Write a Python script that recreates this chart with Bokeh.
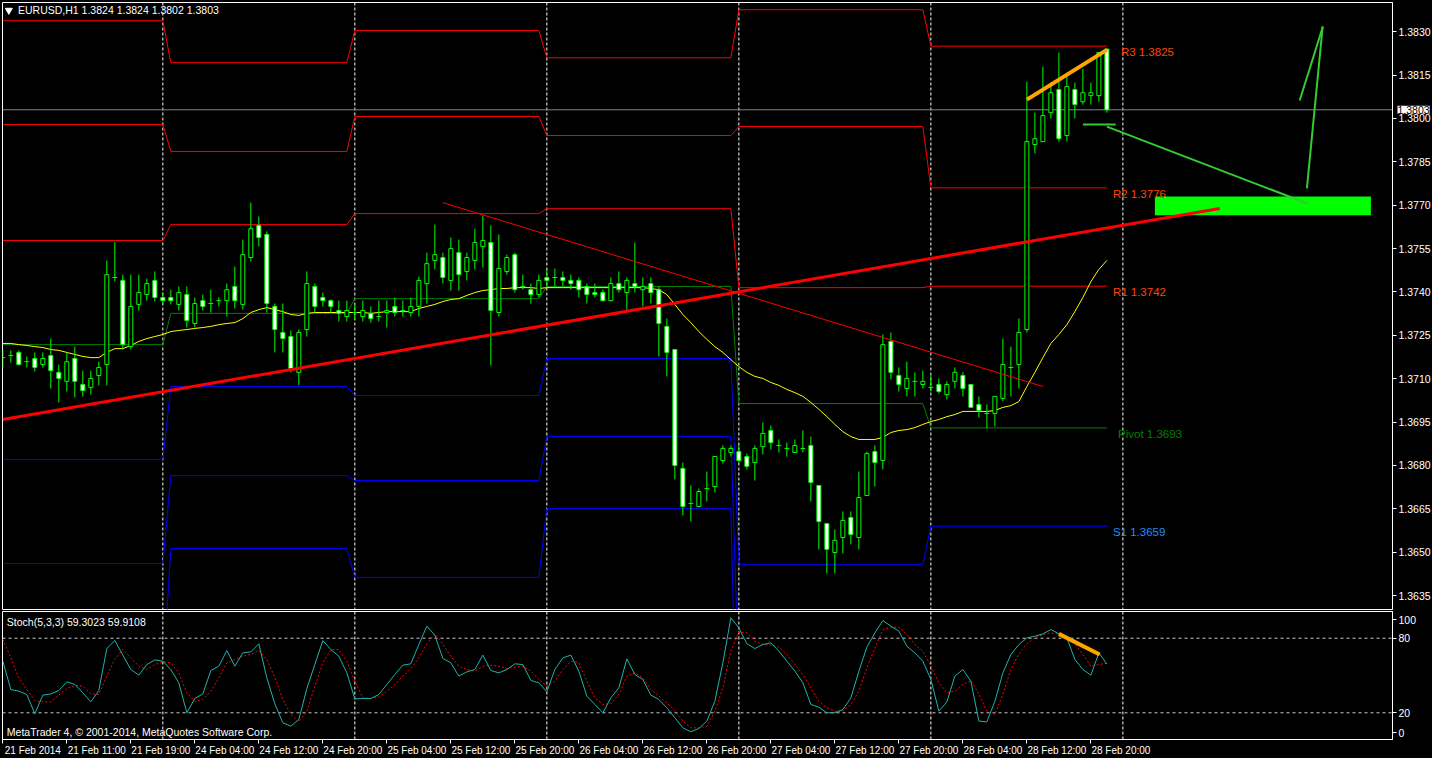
from bokeh.plotting import figure
from bokeh.models import ColumnDataSource, Range1d, FixedTicker, Span, Label, PrintfTickFormatter
from bokeh.layouts import column
from bokeh.embed import file_html
from bokeh.resources import INLINE

# ---------------- data (EURUSD H1, 21 Feb 03:00 .. 28 Feb 22:00) ----------------
opens = [1.37173, 1.37180, 1.37191, 1.37159, 1.37170, 1.37149, 1.37180, 1.37122, 1.37091, 1.37170,
         1.37080, 1.37070, 1.37111, 1.37149, 1.37450, 1.37440, 1.37211, 1.37357, 1.37391, 1.37440,
         1.37381, 1.37381, 1.37357, 1.37391, 1.37291, 1.37370, 1.37360, 1.37370, 1.37370, 1.37419,
         1.37357, 1.37519, 1.37630, 1.37599, 1.37350, 1.37260, 1.37246, 1.37122, 1.37270, 1.37419,
         1.37381, 1.37370, 1.37336, 1.37315, 1.37329, 1.37315, 1.37326, 1.37315, 1.37329, 1.37350,
         1.37336, 1.37329, 1.37350, 1.37429, 1.37509, 1.37519, 1.37440, 1.37536, 1.37471, 1.37509,
         1.37557, 1.37571, 1.37329, 1.37471, 1.37529, 1.37419, 1.37408, 1.37391, 1.37450, 1.37450,
         1.37450, 1.37440, 1.37440, 1.37419, 1.37398, 1.37398, 1.37370, 1.37429, 1.37398, 1.37429,
         1.37408, 1.37429, 1.37408, 1.37281, 1.37201, 1.36790, 1.36669, 1.36658, 1.36720, 1.36727,
         1.36817, 1.36845, 1.36848, 1.36831, 1.36810, 1.36865, 1.36921, 1.36869, 1.36859, 1.36845,
         1.36859, 1.36869, 1.36731, 1.36599, 1.36499, 1.36551, 1.36620, 1.36551, 1.36696, 1.36848,
         1.36817, 1.37229, 1.37111, 1.37066, 1.37091, 1.37080, 1.37070, 1.37080, 1.37045, 1.37091,
         1.37111, 1.37080, 1.37011, 1.36980, 1.36980, 1.37032, 1.37139, 1.37149, 1.37270, 1.37910,
         1.37920, 1.38020, 1.38100, 1.37941, 1.38100, 1.38058, 1.38079, 1.38079, 1.38240]
highs = [1.37201, 1.37198, 1.37198, 1.37177, 1.37191, 1.37191, 1.37239, 1.37149, 1.37191, 1.37211,
         1.37128, 1.37128, 1.37159, 1.37509, 1.37574, 1.37460, 1.37460, 1.37460, 1.37446, 1.37471,
         1.37398, 1.37408, 1.37419, 1.37419, 1.37381, 1.37391, 1.37408, 1.37381, 1.37429, 1.37488,
         1.37581, 1.37709, 1.37661, 1.37609, 1.37360, 1.37360, 1.37267, 1.37270, 1.37471, 1.37429,
         1.37398, 1.37374, 1.37370, 1.37370, 1.37357, 1.37370, 1.37350, 1.37370, 1.37370, 1.37381,
         1.37370, 1.37381, 1.37453, 1.37536, 1.37633, 1.37536, 1.37588, 1.37581, 1.37536, 1.37619,
         1.37664, 1.37630, 1.37599, 1.37529, 1.37536, 1.37460, 1.37429, 1.37460, 1.37481, 1.37481,
         1.37471, 1.37460, 1.37450, 1.37429, 1.37429, 1.37408, 1.37450, 1.37471, 1.37450, 1.37571,
         1.37450, 1.37450, 1.37419, 1.37308, 1.37201, 1.36810, 1.36731, 1.36720, 1.36779, 1.36831,
         1.36869, 1.36869, 1.36869, 1.36841, 1.36869, 1.36949, 1.36938, 1.36890, 1.36879, 1.36890,
         1.36921, 1.36900, 1.36731, 1.36599, 1.36579, 1.36641, 1.36641, 1.36779, 1.36848, 1.36869,
         1.37253, 1.37260, 1.37139, 1.37159, 1.37122, 1.37128, 1.37111, 1.37101, 1.37091, 1.37139,
         1.37122, 1.37080, 1.37039, 1.37011, 1.37039, 1.37239, 1.37211, 1.37308, 1.38127, 1.38020,
         1.38179, 1.38124, 1.38228, 1.38158, 1.38124, 1.38172, 1.38124, 1.38228, 1.38240]
lows = [1.37139, 1.37156, 1.37146, 1.37139, 1.37125, 1.37139, 1.37066, 1.37018, 1.37056, 1.37035,
        1.37039, 1.37045, 1.37077, 1.37077, 1.37436, 1.37201, 1.37201, 1.37336, 1.37370, 1.37367,
        1.37357, 1.37357, 1.37336, 1.37277, 1.37277, 1.37336, 1.37329, 1.37350, 1.37315, 1.37343,
        1.37339, 1.37505, 1.37557, 1.37329, 1.37191, 1.37191, 1.37122, 1.37077, 1.37246, 1.37329,
        1.37350, 1.37329, 1.37298, 1.37298, 1.37305, 1.37298, 1.37294, 1.37298, 1.37277, 1.37315,
        1.37315, 1.37315, 1.37315, 1.37360, 1.37478, 1.37429, 1.37405, 1.37405, 1.37440, 1.37478,
        1.37484, 1.37146, 1.37315, 1.37460, 1.37398, 1.37408, 1.37360, 1.37381, 1.37419, 1.37419,
        1.37419, 1.37408, 1.37381, 1.37360, 1.37381, 1.37367, 1.37367, 1.37398, 1.37336, 1.37398,
        1.37350, 1.37360, 1.37177, 1.37108, 1.36752, 1.36627, 1.36606, 1.36655, 1.36676, 1.36707,
        1.36807, 1.36831, 1.36810, 1.36786, 1.36748, 1.36838, 1.36855, 1.36845, 1.36831, 1.36845,
        1.36845, 1.36676, 1.36510, 1.36427, 1.36427, 1.36496, 1.36527, 1.36510, 1.36696, 1.36727,
        1.36786, 1.37098, 1.37056, 1.37039, 1.37039, 1.37066, 1.37056, 1.37049, 1.37028, 1.37066,
        1.37039, 1.37001, 1.36966, 1.36928, 1.36935, 1.37022, 1.37039, 1.37066, 1.37260, 1.37879,
        1.37920, 1.38000, 1.37920, 1.37920, 1.38000, 1.38048, 1.38048, 1.38058, 1.38020]
closes = [1.37173, 1.37180, 1.37149, 1.37159, 1.37139, 1.37170, 1.37128, 1.37101, 1.37159, 1.37091,
          1.37059, 1.37101, 1.37139, 1.37460, 1.37450, 1.37218, 1.37350, 1.37398, 1.37429, 1.37381,
          1.37370, 1.37370, 1.37398, 1.37301, 1.37360, 1.37350, 1.37360, 1.37370, 1.37408, 1.37370,
          1.37529, 1.37619, 1.37588, 1.37360, 1.37270, 1.37239, 1.37135, 1.37260, 1.37429, 1.37350,
          1.37370, 1.37350, 1.37326, 1.37336, 1.37329, 1.37336, 1.37308, 1.37315, 1.37336, 1.37329,
          1.37336, 1.37350, 1.37440, 1.37498, 1.37529, 1.37450, 1.37550, 1.37460, 1.37519, 1.37571,
          1.37578, 1.37336, 1.37481, 1.37519, 1.37408, 1.37419, 1.37391, 1.37440, 1.37440, 1.37450,
          1.37440, 1.37429, 1.37408, 1.37391, 1.37391, 1.37370, 1.37429, 1.37408, 1.37440, 1.37419,
          1.37419, 1.37398, 1.37291, 1.37191, 1.36800, 1.36658, 1.36669, 1.36710, 1.36720, 1.36831,
          1.36859, 1.36859, 1.36817, 1.36797, 1.36859, 1.36911, 1.36879, 1.36869, 1.36859, 1.36869,
          1.36859, 1.36741, 1.36606, 1.36510, 1.36541, 1.36610, 1.36561, 1.36689, 1.36841, 1.36810,
          1.37218, 1.37122, 1.37080, 1.37101, 1.37091, 1.37091, 1.37070, 1.37056, 1.37080, 1.37122,
          1.37066, 1.37001, 1.36990, 1.36980, 1.37039, 1.37149, 1.37139, 1.37260, 1.37920, 1.37930,
          1.38010, 1.38089, 1.37930, 1.38110, 1.38048, 1.38089, 1.38089, 1.38228, 1.38030]

moving_avg = [1.37222, 1.37222, 1.37218, 1.37215, 1.37211, 1.37208, 1.37201, 1.37198, 1.37191, 1.37184,
              1.37177, 1.37173, 1.37173, 1.37191, 1.37204, 1.37204, 1.37215, 1.37229, 1.37239, 1.37246,
              1.37253, 1.37263, 1.37267, 1.37270, 1.37274, 1.37277, 1.37281, 1.37287, 1.37291, 1.37294,
              1.37308, 1.37329, 1.37339, 1.37346, 1.37339, 1.37332, 1.37322, 1.37319, 1.37326, 1.37329,
              1.37329, 1.37329, 1.37329, 1.37329, 1.37329, 1.37329, 1.37326, 1.37329, 1.37332, 1.37332,
              1.37332, 1.37332, 1.37343, 1.37350, 1.37357, 1.37367, 1.37374, 1.37377, 1.37388, 1.37398,
              1.37405, 1.37408, 1.37412, 1.37412, 1.37415, 1.37415, 1.37415, 1.37412, 1.37415, 1.37415,
              1.37415, 1.37415, 1.37415, 1.37415, 1.37415, 1.37415, 1.37415, 1.37415, 1.37415, 1.37415,
              1.37415, 1.37412, 1.37408, 1.37391, 1.37357, 1.37322, 1.37294, 1.37263, 1.37236, 1.37211,
              1.37191, 1.37166, 1.37142, 1.37122, 1.37108, 1.37101, 1.37087, 1.37077, 1.37063, 1.37052,
              1.37039, 1.37018, 1.36994, 1.36969, 1.36942, 1.36917, 1.36900, 1.36890, 1.36890, 1.36890,
              1.36897, 1.36914, 1.36921, 1.36924, 1.36931, 1.36942, 1.36952, 1.36959, 1.36969, 1.36976,
              1.36987, 1.36987, 1.36987, 1.36987, 1.36990, 1.37001, 1.37007, 1.37021, 1.37073, 1.37122,
              1.37173, 1.37222, 1.37253, 1.37287, 1.37332, 1.37381, 1.37436, 1.37478, 1.37509]

stoch_main = [61.5, 38.7, 37.4, 34.7, 19.2, 34.2, 35.2, 37.9, 44.9, 42.8,
              36.1, 28.8, 37.9, 71.7, 78.1, 66.4, 54.8, 50.3, 58.8, 62.6,
              61.5, 54.8, 44.1, 20.0, 31.5, 35.2, 54.0, 57.5, 70.1, 57.5,
              68.2, 69.0, 75.5, 48.1, 27.2, 11.9, 9.2, 14.6, 39.5, 58.8,
              78.1, 70.9, 65.5, 52.1, 31.2, 31.5, 31.5, 34.7, 42.8, 50.8,
              58.3, 59.4, 74.9, 89.7, 82.4, 63.7, 60.2, 49.5, 52.9, 54.8,
              66.4, 54.0, 52.1, 54.8, 59.4, 58.8, 46.0, 44.1, 36.9, 54.8,
              64.2, 66.4, 53.5, 33.4, 26.7, 20.0, 32.0, 40.1, 63.4, 50.8,
              46.8, 34.2, 30.7, 24.0, 16.0, 7.9, 4.7, 7.4, 13.3, 29.3,
              60.2, 96.4, 88.3, 75.5, 71.7, 74.9, 76.3, 69.6, 61.5, 53.5,
              44.1, 26.7, 24.5, 20.0, 20.0, 22.6, 32.0, 53.5, 72.8, 84.3,
              94.2, 89.7, 85.7, 73.6, 68.2, 61.5, 46.8, 21.3, 28.8, 49.5,
              54.8, 45.4, 13.3, 12.7, 29.3, 52.1, 66.9, 74.9, 80.3, 81.6,
              83.5, 87.0, 83.5, 80.3, 62.9, 54.8, 50.3, 68.2, 59.3]
stoch_signal = [79.0, 64.2, 48.1, 38.7, 29.9, 28.8, 28.8, 34.2, 39.5, 42.0,
                41.4, 35.2, 34.7, 49.5, 62.9, 70.9, 64.2, 57.5, 54.8, 58.8,
                61.0, 60.2, 52.1, 36.0, 29.3, 30.7, 37.4, 48.1, 60.2, 62.9,
                65.5, 66.9, 70.1, 62.9, 48.7, 30.7, 18.6, 12.7, 21.3, 41.4,
                60.2, 70.9, 70.9, 61.5, 45.4, 32.0, 31.5, 32.6, 37.4, 42.8,
                49.5, 55.6, 64.2, 75.5, 83.5, 74.9, 65.5, 57.5, 54.8, 53.5,
                57.5, 58.3, 57.5, 55.6, 56.7, 57.5, 53.5, 46.8, 41.4, 45.4,
                54.8, 61.5, 60.2, 45.4, 32.0, 26.7, 27.2, 34.7, 49.5, 52.1,
                48.1, 38.7, 33.4, 28.0, 21.3, 13.3, 7.9, 7.9, 9.2, 21.3,
                40.1, 69.6, 85.1, 84.3, 77.6, 74.9, 74.4, 72.8, 66.9, 58.8,
                50.8, 40.1, 29.3, 24.0, 21.3, 21.3, 26.7, 37.4, 56.2, 72.2,
                87.0, 88.9, 88.9, 83.0, 74.9, 69.6, 57.5, 44.1, 36.0, 37.4,
                42.8, 46.0, 35.2, 21.3, 18.6, 35.2, 54.8, 67.4, 75.5, 80.3,
                83.0, 84.3, 83.5, 81.6, 75.5, 66.9, 57.5, 58.8, 59.9]

# daily pivot levels (days: 21, 24, 25, 26, 27, 28 Feb) and first bar of each
pivot_day_start = [0, 21, 44, 68, 92, 116]
pivot_R3 = [1.38338, 1.38193, 1.38304, 1.38210, 1.38376, 1.3825]
pivot_R2 = [1.37979, 1.37886, 1.38007, 1.37941, 1.37972, 1.3776]
pivot_R1 = [1.37578, 1.37633, 1.37671, 1.37688, 1.37415, 1.3742]
pivot_PP = [1.37218, 1.37326, 1.37377, 1.37419, 1.37014, 1.3693]
pivot_S1 = [1.36821, 1.37073, 1.37042, 1.37170, 1.36458, 1.3659]
pivot_S2 = [1.36461, 1.36765, 1.36748, 1.36900, 1.36053, 1.3610]
pivot_S3 = [1.36060, 1.36513, 1.36413, 1.36651, 1.35497, 1.3576]

# drawn objects (bar index, price)
trend_up_bars = [0, 152.1]
trend_up_prices = [1.36959, 1.37689]
trend_down_bars = [55, 130]
trend_down_prices = [1.37709, 1.37073]
wedge_bars = [128, 138.04]
wedge_prices = [1.38065, 1.38238]
support_bars = [135, 139.1]
support_prices = [1.37979, 1.37979]
path_down_bars = [138, 163.04]
path_down_prices = [1.37972, 1.37706]
path_up_bars = [163.0, 164.97]
path_up_prices = [1.37758, 1.38318]
arrow_bars = [162.1, 165.0]
arrow_prices = [1.38062, 1.38318]
zone_bars = [144, 171]
zone_prices = [1.37665, 1.37730]
stoch_div_bars = [132.0, 137.1]
stoch_div_values = [83.5, 66.9]

price_ticks = [1.3635, 1.3650, 1.3665, 1.3680, 1.3695, 1.3710, 1.3725,
               1.3740, 1.3755, 1.3770, 1.3785, 1.3800, 1.3815, 1.3830]
separator_bars = [20, 44, 68, 92, 116, 140]
date_label_bars = [0, 8, 16, 24, 32, 40, 48, 56, 64, 72, 80, 88, 96, 104, 112, 120, 128, 136]
date_labels = ["21 Feb 2014", "21 Feb 11:00", "21 Feb 19:00", "24 Feb 04:00", "24 Feb 12:00",
               "24 Feb 20:00", "25 Feb 04:00", "25 Feb 12:00", "25 Feb 20:00", "26 Feb 04:00",
               "26 Feb 12:00", "26 Feb 20:00", "27 Feb 04:00", "27 Feb 12:00", "27 Feb 20:00",
               "28 Feb 04:00", "28 Feb 12:00", "28 Feb 20:00"]

# ---------------- styling ----------------
FONT = "Liberation Sans"
BG = "black"
CANDLE = "#00FF00"
FRAME_W = 1390
n = len(closes)
bars = list(range(n))

p = figure(frame_width=FRAME_W, frame_height=607,
           x_range=Range1d(-0.04, 173.7), y_range=Range1d(1.36302, 1.38401),
           y_axis_location="right", x_axis_location=None,
           output_backend="svg", toolbar_location=None,
           background_fill_color=BG, border_fill_color=BG,
           min_border_left=2, min_border_top=2, min_border_bottom=1, min_border_right=0)
p.grid.visible = False
p.outline_line_color = "white"

ax = p.yaxis[0]
ax.ticker = FixedTicker(ticks=price_ticks, minor_ticks=[])
ax.formatter = PrintfTickFormatter(format="%.4f")
ax.axis_line_color = "white"
ax.major_tick_line_color = "white"
ax.major_tick_out = 4
ax.major_tick_in = 0
ax.minor_tick_line_color = None
ax.major_label_text_color = "white"
ax.major_label_text_font = FONT
ax.major_label_text_font_size = "10.5px"
ax.major_label_standoff = 2

for b in separator_bars:
    p.add_layout(Span(location=b, dimension="height", line_color="white",
                      line_dash="3 2", line_width=1, level="underlay"))
p.add_layout(Span(location=closes[-1], dimension="width", line_color="#778899",
                  line_width=1, level="underlay"))

# pivot step lines
day_of_bar = [max(k for k, s in enumerate(pivot_day_start) if s <= i) for i in bars]
for levels, col in [(pivot_R3, "#FF0000"), (pivot_R2, "#FF0000"), (pivot_R1, "#FF0000"),
                    (pivot_PP, "#008000"),
                    (pivot_S1, "#0000FF"), (pivot_S2, "#0000FF"), (pivot_S3, "#0000FF")]:
    p.line(bars, [levels[d] for d in day_of_bar], line_color=col, line_width=1)

# moving average
p.line(bars, moving_avg, line_color="#FFFF00", line_width=1)

# candles
p.segment(x0=bars, y0=lows, x1=bars, y1=highs, line_color=CANDLE, line_width=1)
body = [i for i in bars if abs(opens[i] - closes[i]) > 1e-6]
doji = [i for i in bars if abs(opens[i] - closes[i]) <= 1e-6]
src = ColumnDataSource(dict(
    x=body,
    top=[max(opens[i], closes[i]) for i in body],
    bottom=[min(opens[i], closes[i]) for i in body],
    fill=["white" if closes[i] < opens[i] else "black" for i in body]))
p.vbar(x="x", width=0.5, top="top", bottom="bottom", fill_color="fill",
       line_color=CANDLE, line_width=1, source=src)
p.segment(x0=[i - 0.3 for i in doji], y0=[closes[i] for i in doji],
          x1=[i + 0.3 for i in doji], y1=[closes[i] for i in doji],
          line_color=CANDLE, line_width=1)

# objects
p.quad(left=[zone_bars[0]], right=[zone_bars[1]], bottom=[zone_prices[0]], top=[zone_prices[1]],
       fill_color="#00FF00", line_color=None)
p.line(trend_down_bars, trend_down_prices, line_color="#FF0000", line_width=1)
p.line(trend_up_bars, trend_up_prices, line_color="#FF0000", line_width=3)
GREEN = "#33CC33"
p.line(support_bars, support_prices, line_color=GREEN, line_width=2)
p.line(path_down_bars, path_down_prices, line_color=GREEN, line_width=2)
p.line(path_up_bars, path_up_prices, line_color=GREEN, line_width=2)
p.line(arrow_bars, arrow_prices, line_color=GREEN, line_width=2)
p.line(wedge_bars, wedge_prices, line_color="#FFA500", line_width=4)

# pivot labels for the last day
for txt, lvl, xb, col in [("R3 %.4f" % pivot_R3[-1], pivot_R3[-1], 139.75, "#FF4500"),
                          ("R2 %.4f" % pivot_R2[-1], pivot_R2[-1], 138.75, "#FF4500"),
                          ("R1 %.4f" % pivot_R1[-1], pivot_R1[-1], 138.75, "#FF4500"),
                          ("Pivot %.4f" % pivot_PP[-1], pivot_PP[-1], 139.4, "#008000"),
                          ("S1 %.4f" % pivot_S1[-1], pivot_S1[-1], 138.75, "#1E90FF")]:
    p.add_layout(Label(x=xb, y=lvl, text=txt, text_color=col, text_font=FONT,
                       text_font_size="11.5px", text_baseline="top", text_align="left"))

p.scatter(x=[0.75], y=[1.38374], marker="inverted_triangle", size=7,
          fill_color="white", line_color="white")
p.add_layout(Label(x=1.9, y=1.38374,
                   text="EURUSD,H1  %.4f %.4f %.4f %.4f" % (opens[-1], highs[-1], lows[-1], closes[-1]),
                   text_color="white", text_font=FONT, text_font_size="10.5px",
                   text_baseline="middle", text_align="left"))
# current price tag on the price scale (right side panel, so it is not clipped to the frame)
p.add_layout(Label(x=-36, x_units="screen", y=closes[-1], text="%.4f" % closes[-1],
                   text_color="black", background_fill_color="white", text_font=FONT,
                   text_font_size="10.5px", text_baseline="middle", text_align="left"), "right")

# ---------------- stochastic pane ----------------
q = figure(frame_width=FRAME_W, frame_height=128,
           x_range=p.x_range, y_range=Range1d(-1.5, 101.5),
           y_axis_location="right",
           output_backend="svg", toolbar_location=None,
           background_fill_color=BG, border_fill_color=BG,
           min_border_left=2, min_border_top=1, min_border_bottom=0, min_border_right=0)
q.grid.visible = False
q.outline_line_color = "white"

xa = q.xaxis[0]
xa.ticker = FixedTicker(ticks=[b + 3.75 for b in date_label_bars], minor_ticks=date_label_bars)
xa.major_label_overrides = {b + 3.75: lab for b, lab in zip(date_label_bars, date_labels)}
xa.major_tick_line_color = None
xa.major_tick_out = 4
xa.major_tick_in = 0
xa.minor_tick_line_color = "white"
xa.minor_tick_out = 4
xa.minor_tick_in = 0
xa.axis_line_color = "white"
xa.major_label_text_color = "white"
xa.major_label_text_font = FONT
xa.major_label_text_font_size = "10px"
xa.major_label_standoff = 1

ya = q.yaxis[0]
ya.ticker = FixedTicker(ticks=[4, 20, 80, 95], minor_ticks=[])
ya.major_label_overrides = {4: "0", 20: "20", 80: "80", 95: "100"}
ya.axis_line_color = "white"
ya.major_tick_line_color = "white"
ya.major_tick_out = 4
ya.major_tick_in = 0
ya.minor_tick_line_color = None
ya.major_label_text_color = "white"
ya.major_label_text_font = FONT
ya.major_label_text_font_size = "10.5px"
ya.major_label_standoff = 2

for b in separator_bars:
    q.add_layout(Span(location=b, dimension="height", line_color="white",
                      line_dash="3 2", line_width=1, level="underlay"))
for lvl in [20, 80]:
    q.add_layout(Span(location=lvl, dimension="width", line_color="#C8C8C8",
                      line_dash="3 3", line_width=1, level="underlay"))

q.line(bars, stoch_signal, line_color="#FF0000", line_width=1, line_dash="2 2")
q.line(bars, stoch_main, line_color="#20B2AA", line_width=1)
q.line(stoch_div_bars, stoch_div_values, line_color="#FFA500", line_width=4)

q.add_layout(Label(x=0.5, y=93.4, text="Stoch(5,3,3) %.4f %.4f" % (59.3023, 59.9108),
                   text_color="white", text_font=FONT, text_font_size="10.5px",
                   text_baseline="middle", text_align="left"))
q.add_layout(Label(x=0.5, y=4.2, text="MetaTrader 4, \u00a9 2001-2014, MetaQuotes Software Corp.",
                   text_color="white", text_font=FONT, text_font_size="10.5px",
                   text_baseline="middle", text_align="left"))

layout = column(p, q)
html = file_html(layout, INLINE, title="EURUSD,H1")
html = html.replace("</head>", "<style>body{background:#000000;}</style></head>", 1)
open("out.html", "w").write(html)
